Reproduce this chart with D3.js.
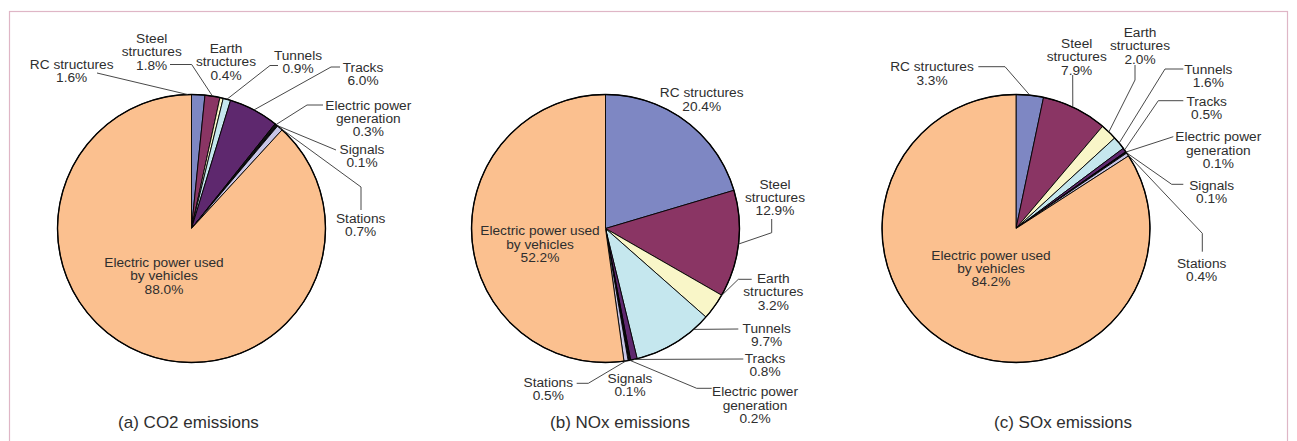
<!DOCTYPE html>
<html>
<head>
<meta charset="utf-8">
<script src="https://cdn.jsdelivr.net/npm/d3@7"></script>
<style>
  html, body { margin: 0; padding: 0; background: #fff; }
  svg { display: block; font-family: "Liberation Sans", Arial, sans-serif; }
</style>
</head>
<body>
<svg id="chart" width="1297" height="441"></svg>
<script>
// data
const categories = [
  'RC structures', 'Steel structures', 'Earth structures', 'Tunnels', 'Tracks',
  'Electric power generation', 'Signals', 'Stations', 'Electric power used by vehicles'
];
// how each category name is broken on the chart
const categoryLines = [
  ['RC structures'], ['Steel', 'structures'], ['Earth', 'structures'], ['Tunnels'], ['Tracks'],
  ['Electric power', 'generation'], ['Signals'], ['Stations'], ['Electric power used', 'by vehicles']
];
const co2 = [1.6, 1.8, 0.4, 0.9, 6.0, 0.3, 0.1, 0.7, 88.0];
const nox = [20.4, 12.9, 3.2, 9.7, 0.8, 0.2, 0.1, 0.5, 52.2];
const sox = [3.3, 7.9, 2.0, 1.6, 0.5, 0.1, 0.1, 0.4, 84.2];
const titles = ['(a) CO2 emissions', '(b) NOx emissions', '(c) SOx emissions'];

// config
const config = {
  radius: 134,
  cy: 228.5,
  fontSize: 13.7,
  lineHeight: 13.3,
  titleSize: 17,
  textColor: '#2e2e2e',
  colors: ['#7e87c3', '#8a3564', '#f9f6c8', '#c5e7ee', '#5e286e', '#111111', '#3b3b5b', '#c7c5e6', '#fbc08f'],
};

// label placement for each panel (x, y = centre of first text line, leader = bend points)
const panels = [
  {
    values: co2, cx: 191.5, title: { x: 188.5, y: 422 },
    labels: [
      { x: 71.7, y: 64.3, leader: [[97, 73]], nudge: -4.5 },
      { x: 151.7, y: 38.3, leader: [[170, 64.5], [191.7, 64.5]] },
      { x: 226, y: 48.3 },
      { x: 298, y: 55, leader: [[278, 65.5], [270, 65.5]] },
      { x: 363, y: 67.3, leader: [[340, 67], [331, 67]] },
      { x: 368.3, y: 105, leader: [[323, 105], [307, 105]] },
      { x: 362, y: 149.3, leader: [[336, 150]] },
      { x: 360.7, y: 218.3, leader: [[361, 210], [361, 187]] },
      { x: 164, y: 262.3 },
    ]
  },
  {
    values: nox, cx: 605.5, title: { x: 620, y: 422 },
    labels: [
      { x: 701.7, y: 92.7 },
      { x: 775, y: 184, leader: [[771.7, 219], [771.7, 232.7]] },
      { x: 773.3, y: 278.3, leader: [[751.7, 279.3], [738.3, 279.3]], nudge: -5.5 },
      { x: 766.7, y: 328.3, leader: [[738.3, 329]], nudge: -10 },
      { x: 765, y: 358.3, leader: [[743.3, 359]] },
      { x: 755, y: 391.7, leader: [[711.7, 388.3], [696.7, 388.3]] },
      { x: 630, y: 378.3 },
      { x: 548.3, y: 382.3, leader: [[576.7, 383.3], [588.3, 383.3]] },
      { x: 540, y: 230.7 },
    ]
  },
  {
    values: sox, cx: 1016, title: { x: 1063, y: 422 },
    labels: [
      { x: 932, y: 66.7, leader: [[978.3, 66.7], [1005, 66.7]] },
      { x: 1076.7, y: 43.3, leader: [[1072.7, 75]], nudge: -1 },
      { x: 1140, y: 32.3, leader: [[1135, 65], [1135, 80]] },
      { x: 1208.3, y: 69.3, leader: [[1183.3, 69], [1165, 69]] },
      { x: 1206.7, y: 101, leader: [[1183.3, 100.7], [1158.3, 100.7]] },
      { x: 1218.3, y: 136.7, leader: [[1173.3, 136.7]] },
      { x: 1211.7, y: 185, leader: [[1183.3, 184.3], [1171.7, 184.3]] },
      { x: 1201.7, y: 263.3, leader: [[1202.3, 251.7], [1202.3, 233.3]] },
      { x: 991, y: 255 },
    ]
  }
];

const svg = d3.select('#chart');

// outer frame
svg.append('rect')
  .attr('x', 9.5).attr('y', 11.5)
  .attr('width', 1278).attr('height', 460)
  .attr('fill', 'none')
  .attr('stroke', '#dfb6c6')
  .attr('stroke-width', 1.2);

const pie = d3.pie().sort(null).value(d => d.value);
const arc = d3.arc().innerRadius(0).outerRadius(config.radius);
const color = d3.scaleOrdinal().domain(categories).range(config.colors);

panels.forEach((panel, p) => {
  const rows = categories.map((c, i) => ({ name: c, value: panel.values[i], idx: i }));
  const arcs = pie(rows);
  const g = svg.append('g').attr('transform', `translate(${panel.cx},${config.cy})`);

  // slices
  g.selectAll('path.slice')
    .data(arcs)
    .enter().append('path')
    .attr('class', 'slice')
    .attr('d', arc)
    .attr('fill', d => color(d.data.name))
    .attr('stroke', '#000')
    .attr('stroke-width', 0.9)
    .attr('stroke-linejoin', 'round');

  // outline
  g.append('circle')
    .attr('r', config.radius)
    .attr('fill', 'none')
    .attr('stroke', '#000')
    .attr('stroke-width', 1.4);

  // leader lines
  arcs.forEach((d, i) => {
    const lab = panel.labels[i];
    if (!lab.leader) return;
    const a = (d.startAngle + d.endAngle) / 2 + (lab.nudge || 0) * Math.PI / 180;
    const anchor = [panel.cx + config.radius * Math.sin(a), config.cy - config.radius * Math.cos(a)];
    const pts = lab.leader.concat([anchor]);
    svg.append('path')
      .attr('d', d3.line()(pts))
      .attr('fill', 'none')
      .attr('stroke', '#333')
      .attr('stroke-width', 0.9);
  });

  // labels
  arcs.forEach((d, i) => {
    const lab = panel.labels[i];
    const lines = categoryLines[i].concat([d.data.value.toFixed(1) + '%']);
    const t = svg.append('text')
      .attr('text-anchor', 'middle')
      .attr('fill', config.textColor)
      .style('font-size', `${config.fontSize}px`);
    lines.forEach((s, k) => {
      t.append('tspan')
        .attr('x', lab.x)
        .attr('y', lab.y + 4.6 + k * config.lineHeight)
        .text(s);
    });
  });

  // panel title
  svg.append('text')
    .attr('x', panel.title.x)
    .attr('y', panel.title.y + 6)
    .attr('text-anchor', 'middle')
    .attr('fill', config.textColor)
    .style('font-size', `${config.titleSize}px`)
    .text(titles[p]);
});
</script>
</body>
</html>
